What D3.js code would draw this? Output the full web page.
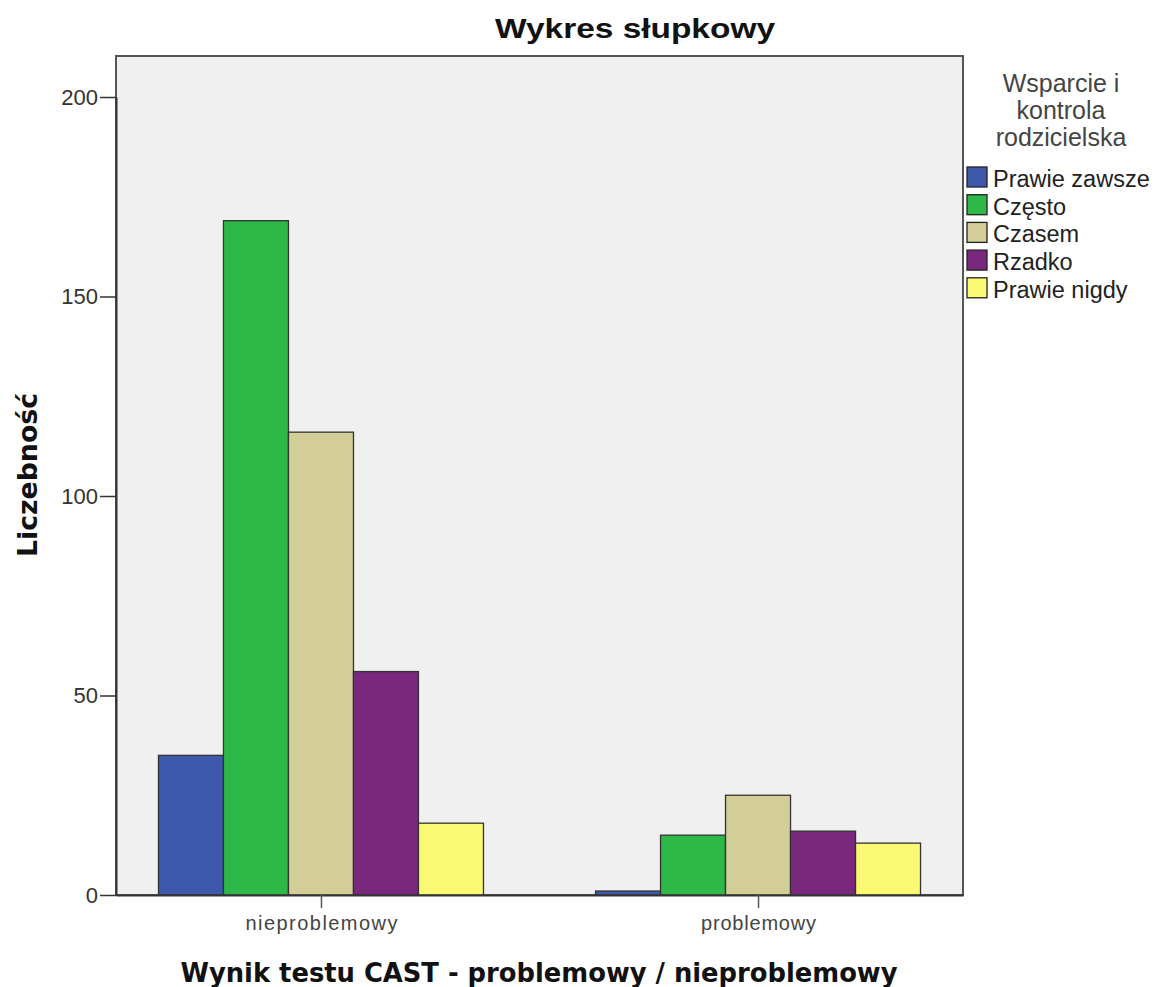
<!DOCTYPE html>
<html>
<head>
<meta charset="utf-8">
<script src="https://cdn.jsdelivr.net/npm/d3@7"></script>
<style>
  body { margin: 0; background: #fff; }
  text { font-family: Arial, "Liberation Sans", sans-serif; }
</style>
</head>
<body>
<svg id="chart"></svg>
<script>
// data
const categories = ['nieproblemowy', 'problemowy'];
const seriesNames = ['Prawie zawsze', 'Często', 'Czasem', 'Rzadko', 'Prawie nigdy'];
const valuesNieproblemowy = [35, 169, 116, 56, 18];
const valuesProblemowy = [1, 15, 25, 16, 13];
const yTicks = [0, 50, 100, 150, 200];
const colors = ['#3e58ac', '#2eb848', '#d3ce97', '#7a287d', '#fbf873'];

const values = [valuesNieproblemowy, valuesProblemowy];

const width = 1157, height = 987;
const plot = { left: 116, right: 963, top: 56, bottom: 895 };

let svg = d3.select('#chart')
    .attr('width', width)
    .attr('height', height);

// plot background
svg.append('rect')
    .attr('x', plot.left)
    .attr('y', plot.top)
    .attr('width', plot.right - plot.left)
    .attr('height', plot.bottom - plot.top)
    .attr('fill', '#f0f0f0')
    .attr('stroke', '#555')
    .attr('stroke-width', 2);

let y = d3.scaleLinear()
    .domain([0, 200])
    .range([plot.bottom, 97]);

let x0 = d3.scalePoint()
    .domain(categories)
    .range([plot.left, plot.right])
    .padding(0.469);

let x1 = d3.scaleBand()
    .domain(seriesNames)
    .range([-162.5, 162.5])
    .padding(0);

// bars
categories.forEach(function(cat, i) {
    svg.append('g')
        .attr('transform', 'translate(' + x0(cat) + ',0)')
        .selectAll('rect')
        .data(values[i])
        .enter()
        .append('rect')
        .attr('x', function(d, j) { return x1(seriesNames[j]); })
        .attr('y', function(d) { return y(d); })
        .attr('width', x1.bandwidth())
        .attr('height', function(d) { return plot.bottom - y(d); })
        .attr('fill', function(d, j) { return colors[j]; })
        .attr('stroke', '#333')
        .attr('stroke-width', 1.3);
});

// y axis
let yAxis = svg.append('g')
    .attr('transform', 'translate(' + plot.left + ',0)')
    .call(d3.axisLeft(y).tickValues(yTicks).tickSize(16).tickSizeOuter(0).tickPadding(2));
yAxis.select('.domain').attr('stroke', '#333').attr('stroke-width', 2);
yAxis.selectAll('.tick line').attr('stroke', '#333').attr('stroke-width', 1.5);
yAxis.selectAll('.tick text')
    .attr('font-size', 22)
    .attr('fill', '#333')
    .style('font-family', 'Arial, "Liberation Sans", sans-serif');

// x axis
let xAxis = svg.append('g')
    .attr('transform', 'translate(0,' + plot.bottom + ')')
    .call(d3.axisBottom(x0).tickSize(13).tickSizeOuter(0).tickPadding(0));
xAxis.select('.domain').attr('stroke', '#333').attr('stroke-width', 2);
xAxis.selectAll('.tick line').attr('stroke', '#555').attr('stroke-width', 1.5);
xAxis.selectAll('.tick text')
    .attr('dy', null)
    .attr('y', 35)
    .attr('font-size', 20)
    .attr('fill', '#444')
    .attr('textLength', function(d) { return d === 'nieproblemowy' ? 152 : 115; })
    .attr('lengthAdjust', 'spacing')
    .style('font-family', 'Arial, "Liberation Sans", sans-serif');

// titles
svg.append('text')
    .attr('x', 635)
    .attr('y', 38)
    .attr('text-anchor', 'middle')
    .attr('font-size', 27)
    .attr('font-weight', 'bold')
    .attr('fill', '#111')
    .attr('textLength', 280)
    .attr('lengthAdjust', 'spacingAndGlyphs')
    .text('Wykres słupkowy');

svg.append('text')
    .attr('x', 539)
    .attr('y', 982)
    .attr('text-anchor', 'middle')
    .attr('font-size', 26)
    .attr('font-weight', 'bold')
    .attr('fill', '#111')
    .attr('textLength', 717)
    .attr('lengthAdjust', 'spacingAndGlyphs')
    .style('font-family', '"DejaVu Sans", Verdana, sans-serif')
    .text('Wynik testu CAST - problemowy / nieproblemowy');

svg.append('text')
    .attr('transform', 'translate(37,475) rotate(-90)')
    .attr('text-anchor', 'middle')
    .attr('font-size', 26)
    .attr('font-weight', 'bold')
    .attr('fill', '#111')
    .attr('textLength', 164)
    .attr('lengthAdjust', 'spacingAndGlyphs')
    .style('font-family', '"DejaVu Sans", Verdana, sans-serif')
    .text('Liczebność');

// legend
let legendTitle = ['Wsparcie i', 'kontrola', 'rodzicielska'];
svg.append('g')
    .selectAll('text')
    .data(legendTitle)
    .enter()
    .append('text')
    .attr('x', 1061)
    .attr('y', function(d, i) { return 92 + i * 27; })
    .attr('text-anchor', 'middle')
    .attr('font-size', 25)
    .attr('fill', '#444')
    .text(function(d) { return d; });

let legend = svg.append('g')
    .selectAll('g')
    .data(seriesNames)
    .enter()
    .append('g')
    .attr('transform', function(d, i) { return 'translate(967,' + (167 + i * 27.7) + ')'; });

legend.append('rect')
    .attr('width', 20)
    .attr('height', 20)
    .attr('fill', function(d, i) { return colors[i]; })
    .attr('stroke', '#222')
    .attr('stroke-width', 1.3);

legend.append('text')
    .attr('x', 26)
    .attr('y', 20)
    .attr('font-size', 23.5)
    .attr('fill', '#222')
    .text(function(d) { return d; });
</script>
</body>
</html>
